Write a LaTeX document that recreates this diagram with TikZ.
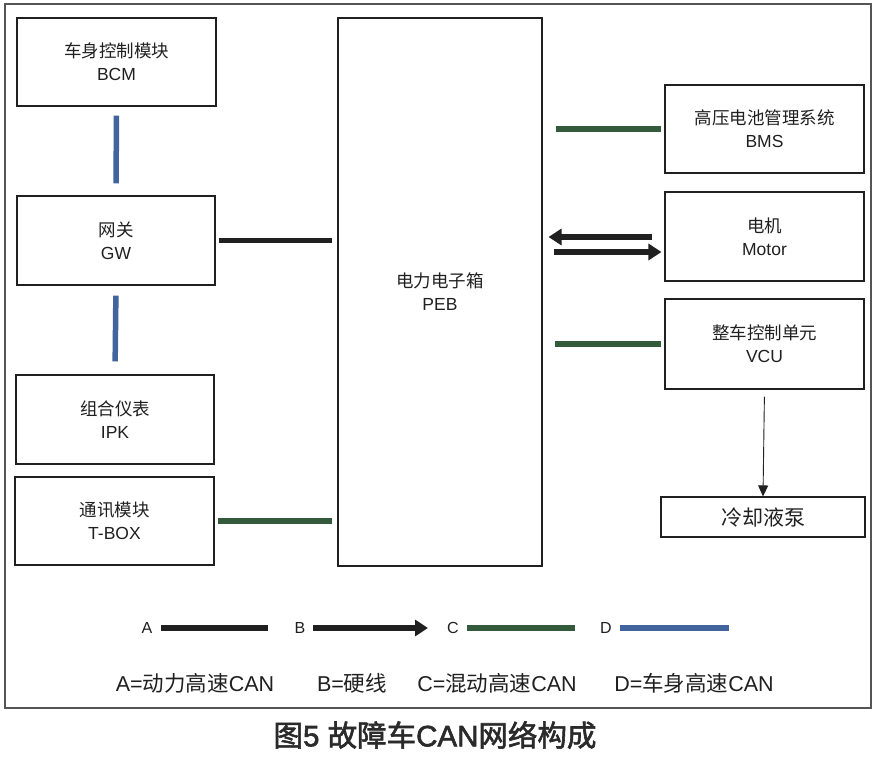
\documentclass[tikz,border=0pt]{standalone}
\usepackage{fontspec}
\setmainfont{Liberation Sans}
\newfontfamily\cjk{Noto Sans CJK SC}
\newfontfamily\cjkt[FakeBold=2]{Noto Sans CJK SC}
\newfontfamily\latt[FakeBold=2]{Liberation Sans}
\usetikzlibrary{arrows.meta}
\definecolor{canA}{HTML}{202020}
\definecolor{canC}{HTML}{345a3c}
\definecolor{canD}{HTML}{41649e}
\definecolor{frame}{HTML}{555555}
\definecolor{titlec}{HTML}{2a2a2a}
\begin{document}
\begin{tikzpicture}[x=1pt,y=-1pt,
  box/.style={draw=canA, line width=1.1pt, align=center, inner sep=0pt, text=canA,
    font=\fontsize{17.5}{23}\selectfont},
  busA/.style={draw=canA, line width=5.5pt},
  busC/.style={draw=canC, line width=5.5pt},
  busD/.style={draw=canD, line width=5.5pt},
  hard/.style={draw=canA, line width=5.5pt, -{Triangle[length=13pt,width=16pt]}},
  thinarrow/.style={draw=canA, line width=0.9pt, -{Triangle[length=11pt,width=10pt]}},
  legtxt/.style={font=\fontsize{21.5}{24}\selectfont, inner sep=0pt, text=canA},
  leglab/.style={font=\fontsize{16}{20}\selectfont, inner sep=0pt, text=canA}
]
\useasboundingbox (0,0) rectangle (879,762);
\fill[white] (0,0) rectangle (879,762);
\draw[frame, line width=1.2pt] (5,4) rectangle (871,708);

% left column
\node[box, minimum width=199pt, minimum height=88pt] (bcm) at (116.5,62) {{\cjk 车身控制模块}\\BCM};
\node[box, minimum width=198pt, minimum height=89pt] (gw) at (116,240.5) {{\cjk 网关}\\GW};
\node[box, minimum width=198pt, minimum height=89pt] (ipk) at (115,419.5) {{\cjk 组合仪表}\\IPK};
\node[box, minimum width=199pt, minimum height=88pt] (tbox) at (114.5,521) {{\cjk 通讯模块}\\T-BOX};
% centre
\node[box, minimum width=204pt, minimum height=548pt] (peb) at (440,292) {{\cjk 电力电子箱}\\PEB};
% right column
\node[box, minimum width=199pt, minimum height=88pt] (bms) at (764.5,129) {{\cjk 高压电池管理系统}\\BMS};
\node[box, minimum width=199pt, minimum height=89pt] (motor) at (764.5,236.5) {{\cjk 电机}\\Motor};
\node[box, minimum width=199pt, minimum height=90pt] (vcu) at (764.5,344) {{\cjk 整车控制单元}\\VCU};
\node[box, minimum width=204pt, minimum height=40pt, font=\fontsize{21}{24}\selectfont\cjk] (pump) at (763,517) {冷却液泵};

% connectors
\draw[busD, shorten <=9pt, shorten >=12pt] (bcm.south) -- (gw.north);
\draw[busD, shorten <=10pt, shorten >=13pt] (gw.south) -- (ipk.north);
\draw[busA, shorten <=3pt, shorten >=5pt] (gw.east) -- (gw.east -| peb.west);
\draw[busC, shorten <=3pt, shorten >=5pt] (tbox.east) -- (tbox.east -| peb.west);
\draw[busC, shorten <=3pt, shorten >=13pt] (bms.west) -- (bms.west -| peb.east);
\draw[busC, shorten <=3pt, shorten >=12pt] (vcu.west) -- (vcu.west -| peb.east);
\draw[hard, shorten <=12pt, shorten >=6pt] ([yshift=-0.5pt]motor.west) -- ([yshift=-0.5pt]motor.west -| peb.east);
\draw[hard, shorten <=11pt, shorten >=3pt] ([yshift=-15.5pt]motor.west -| peb.east) -- ([yshift=-15.5pt]motor.west);
\draw[thinarrow, shorten <=7pt] (vcu.south) -- (pump.north);

% legend
\node[leglab] (la) at (147,628) {A};
\coordinate (la1) at (161,628); \coordinate (la2) at (268,628);
\draw[busA] (la1) -- (la2);
\node[leglab] (lb) at (300,628) {B};
\coordinate (lb1) at (313,628); \coordinate (lb2) at (428,628);
\draw[hard] (lb1) -- (lb2);
\node[leglab] (lc) at (453,628) {C};
\coordinate (lc1) at (467,628); \coordinate (lc2) at (575,628);
\draw[busC] (lc1) -- (lc2);
\node[leglab] (ld) at (606,628) {D};
\coordinate (ld1) at (620,628); \coordinate (ld2) at (729,628);
\draw[busD] (ld1) -- (ld2);

\node[legtxt] (ta) at (195,683) {A={\cjk 动力高速}CAN};
\node[legtxt] (tb) at (352,683) {B={\cjk 硬线}};
\node[legtxt] (tc) at (497,683) {C={\cjk 混动高速}CAN};
\node[legtxt] (td) at (694,683) {D={\cjk 车身高速}CAN};

% title
\node[font=\fontsize{29.5}{32}\selectfont, inner sep=0pt, text=titlec] (title) at (435,735) {{\cjkt 图}{\latt 5 }{\cjkt 故障车}{\latt CAN}{\cjkt 网络构成}};
\end{tikzpicture}
\end{document}
